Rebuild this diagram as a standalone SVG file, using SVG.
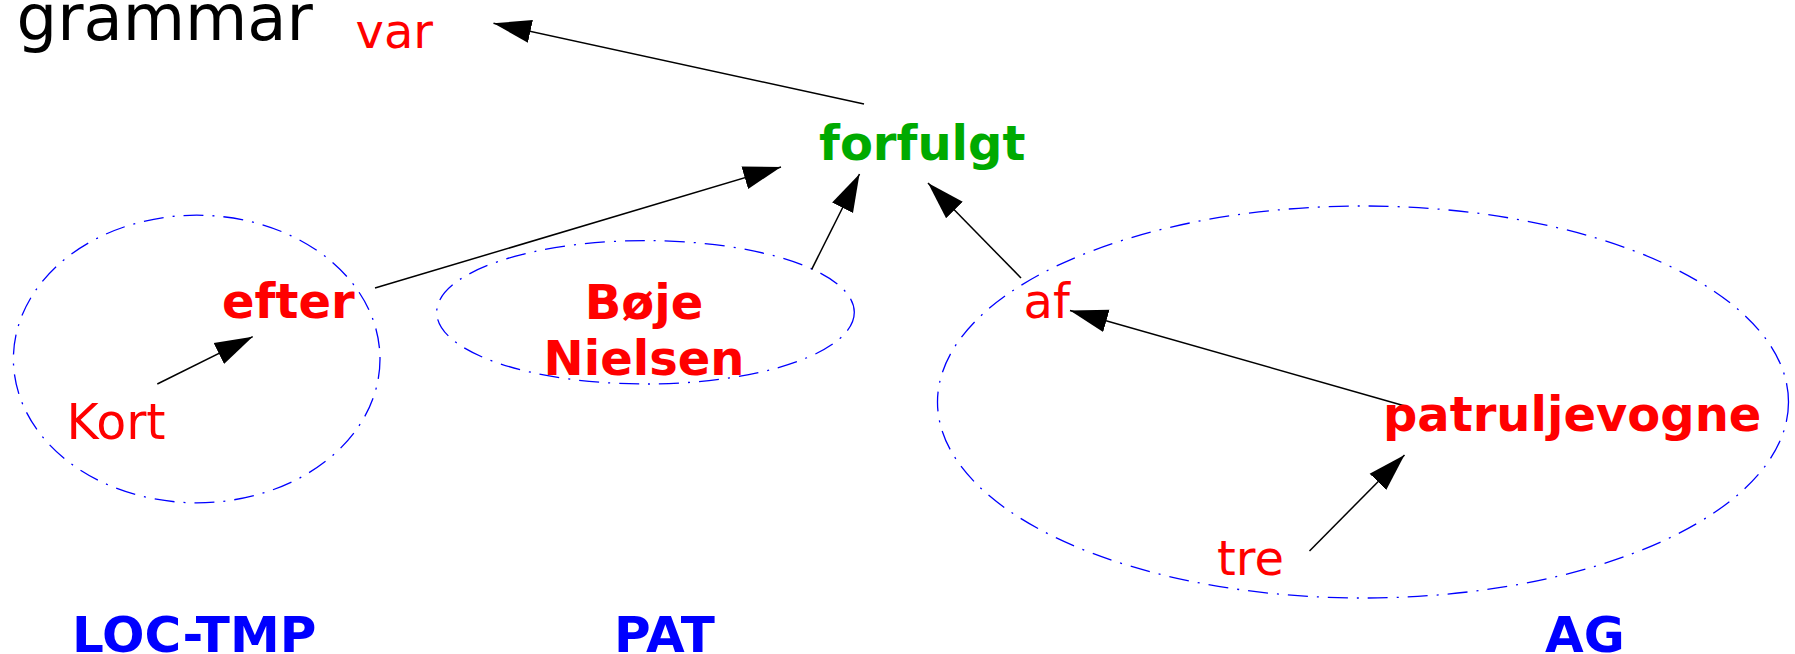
<svg xmlns="http://www.w3.org/2000/svg" width="1795" height="654" viewBox="0 0 1795 654">
<style>
text{font-family:"DejaVu Sans","Liberation Sans",sans-serif;font-size:48px}
.r{fill:#ff0000}
.b{font-weight:bold}
.g{fill:#00aa00;font-weight:bold}
.lab{fill:#0000ff;font-weight:bold;font-size:50px}
.grp{fill:none;stroke:#0000ff;stroke-width:1.3;stroke-dasharray:20,9,2,9}
.con{stroke:#000;stroke-width:1.5;fill:none;marker-end:url(#ah)}
</style>
<defs>
<marker id="ah" markerUnits="userSpaceOnUse" markerWidth="40" markerHeight="30" viewBox="0 -12 36 24" refX="34" refY="0" orient="auto">
<path d="M0,-10.5 L34,0 L0,10.5 z" fill="#000"/>
</marker>
</defs>
<rect width="1795" height="654" fill="#fff"/>
<g id="groups">
<ellipse id="grp-loc" class="grp" cx="196.7" cy="359" rx="183.3" ry="143.8"/>
<ellipse id="grp-pat" class="grp" cx="645.5" cy="312.3" rx="208.8" ry="71.7"/>
<ellipse id="grp-ag" class="grp" cx="1363" cy="402" rx="425.5" ry="196"/>
</g>
<g id="connectors">
<line class="con" x1="864" y1="104" x2="493.5" y2="23.3"/>
<line class="con" x1="375" y1="288" x2="781" y2="167"/>
<line class="con" x1="811.7" y1="269.3" x2="859.5" y2="174"/>
<line class="con" x1="1021" y1="278" x2="928" y2="183"/>
<line class="con" x1="1405" y1="406" x2="1070" y2="310.5"/>
<line class="con" x1="1309.5" y1="551" x2="1404.5" y2="455"/>
<line class="con" x1="157.3" y1="384" x2="252.7" y2="336.7"/>
</g>
<g id="title"><text x="16.5" y="40" style="font-size:64px" fill="#000">grammar</text></g>
<g id="n-var"><text class="r" x="355.5" y="48">var</text></g>
<g id="n-forfulgt"><text class="g" x="819" y="160">forfulgt</text></g>
<g id="n-efter"><text class="r b" x="222" y="318">efter</text></g>
<g id="n-kort"><text class="r" x="66.5" y="439" style="font-size:49px">Kort</text></g>
<g id="n-boje"><text class="r b" text-anchor="middle" x="644" y="319">Bøje</text><text class="r b" text-anchor="middle" x="644" y="375">Nielsen</text></g>
<g id="n-af"><text class="r" x="1023.6" y="318">af</text></g>
<g id="n-patruljevogne"><text class="r b" x="1383" y="431">patruljevogne</text></g>
<g id="n-tre"><text class="r" x="1217" y="575">tre</text></g>
<g id="labels">
<text class="lab" x="72" y="652">LOC-TMP</text>
<text class="lab" x="614" y="652">PAT</text>
<text class="lab" x="1545" y="652">AG</text>
</g>
</svg>
